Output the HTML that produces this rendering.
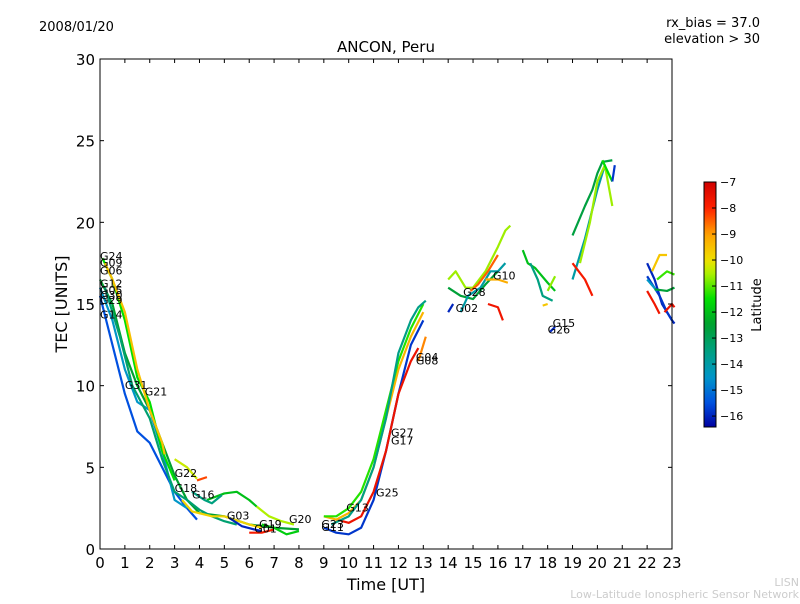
<!DOCTYPE html>
<html><head><meta charset="utf-8"><style>
body{margin:0;background:#fff;width:800px;height:600px;overflow:hidden;font-family:"DejaVu Sans","Liberation Sans",sans-serif}
svg text{font-family:"DejaVu Sans","Liberation Sans",sans-serif}
</style></head><body>
<svg id="c" width="800" height="600" xmlns="http://www.w3.org/2000/svg">
<text x="39" y="31" font-size="13">2008/01/20</text>
<text x="760" y="27" font-size="13" text-anchor="end">rx_bias = 37.0</text>
<text x="760" y="43" font-size="13" text-anchor="end">elevation &gt; 30</text>
<text x="386" y="52" font-size="15" text-anchor="middle">ANCON, Peru</text>
<text x="386" y="590" font-size="16" text-anchor="middle">Time [UT]</text>
<text x="67" y="304" font-size="16" text-anchor="middle" transform="rotate(-90 67 304)">TEC [UNITS]</text>
<text x="799" y="586" font-size="11" fill="#ccc" text-anchor="end">LISN</text>
<text x="799" y="598" font-size="11" fill="#ccc" text-anchor="end">Low-Latitude Ionospheric Sensor Network</text>
<g id="plot"></g>
<g id="cbar"></g>
</svg>
<script>
const xTicks=[0,1,2,3,4,5,6,7,8,9,10,11,12,13,14,15,16,17,18,19,20,21,22,23];
const yTicks=[0,5,10,15,20,25,30];
const cbTicks=[-7,-8,-9,-10,-11,-12,-13,-14,-15,-16];
const seriesLat=[-12.5,-15.5,-14.5,-13.3,-11.5,-9.5,-10.3,-8.3,-12,-13.5,-9.8,-16,-7.8,-11.8,-10.5,-15.8,-7.6,-9.3,-11.3,-13.6,-8.8,-10.6,-12.6,-16,-14,-8.5,-7.7,-9.2,-12,-13.5,-10.7,-9.6,-16,-12.7,-14,-10.6,-7.8,-11.5,-15.8,-16,-15.8,-14.5,-9.6,-11.2,-12.6,-7.7,-7.6];
const seriesPts=[
[[0,16.5],[0.5,15],[1,12],[1.5,10],[2,8.5],[2.5,6.5],[3,4.5],[3.5,3],[4,2.2],[5,2],[6,1.5],[7,1.3],[8,1.2]],
[[0,15.5],[0.5,12.5],[1,9.5],[1.5,7.2],[2,6.5],[2.5,5],[3,3.5],[3.5,2.5],[3.9,1.8]],
[[0,16],[0.5,14],[1,11],[1.5,9],[2,8.5],[2.5,6],[3,3],[3.5,2.5]],
[[0.2,16],[0.8,13],[1.3,10],[2,8],[2.5,5.5],[3,3.5],[3.5,3],[4,2.4],[4.5,2],[5,1.7],[5.5,1.5]],
[[0.1,17.8],[0.5,16.5],[1,14],[1.5,10.5],[2,9],[2.5,6],[3,4.2]],
[[0.2,17.5],[0.5,16.5],[1,14.5],[1.5,11],[2,8.5],[2.5,6.5],[2.6,5.8]],
[[3,5.5],[3.5,5],[3.9,4.3]],
[[3.9,4.2],[4.3,4.4]],
[[4.3,3],[5,3.4],[5.5,3.5],[6,3],[6.3,2.6]],
[[3.7,3.5],[4.2,3],[4.5,2.8],[4.9,3.3]],
[[3.3,3],[3.7,2.3],[4.5,2],[5,2],[6,1.5],[6.5,1.3]],
[[5.2,1.9],[5.7,1.4],[6.2,1.2],[6.5,1.1]],
[[6,1],[6.5,1],[7,1.2]],
[[6.5,1.5],[7,1.3],[7.5,0.9],[8,1.1]],
[[6.3,2.6],[6.8,2],[7.3,1.7],[7.8,1.5]],
[[9,1.3],[9.5,1],[10,0.9],[10.5,1.3],[11,3],[11.5,6],[12,9.5],[12.5,12.5],[13,14]],
[[9.5,1.8],[10,1.6],[10.5,2],[11,3.5],[11.5,6],[12,9.5],[12.5,11.5],[12.8,12.3]],
[[9,2],[9.5,1.8],[10,2.2],[10.5,3],[11,5],[11.5,8],[12,11],[12.5,13],[13,14.5]],
[[9,2],[9.5,2],[10,2.5],[10.5,3.5],[11,5.5],[11.5,8.5],[12,11.5],[12.5,13.5],[13,15]],
[[9.3,1.5],[10,2],[10.5,3],[11,5],[11.5,8],[12,12],[12.5,14],[12.8,14.8],[13.1,15.2]],
[[12.8,11.5],[13.1,13]],
[[14,16.5],[14.3,17],[14.7,16],[15,16],[15.5,17],[16,18.5],[16.3,19.5],[16.5,19.8]],
[[14,16],[14.5,15.5],[15,15.3],[15.5,16.2],[16,17]],
[[14,14.5],[14.2,15]],
[[14.5,14.5],[14.8,15.5],[15.3,16],[15.7,17],[16,17],[16.3,17.5]],
[[14.9,15.8],[15.2,16.2],[15.6,17],[16,18]],
[[15.6,15],[16,14.8],[16.2,14]],
[[15.5,16.5],[16,16.5],[16.4,16.3]],
[[17,18.3],[17.2,17.5],[17.5,17.2],[18,16.3],[18.3,15.8]],
[[17.3,17.5],[17.6,16.5],[17.8,15.5],[18.2,15.2]],
[[18,15.8],[18.3,16.7]],
[[17.8,14.9],[18,15]],
[[18.1,13.3],[18.3,13.6]],
[[19,19.2],[19.5,21],[19.8,22],[20,23],[20.2,23.7],[20.6,23.8]],
[[19,16.5],[19.5,19],[20,22],[20.3,23.5]],
[[19.3,17.5],[19.7,20],[20,22.5],[20.3,23.5],[20.6,21]],
[[19,17.5],[19.5,16.5],[19.8,15.5]],
[[20.2,23.8],[20.6,22.5]],
[[20.6,22.5],[20.7,23.5]],
[[22,17.5],[22.3,16.5],[22.6,15],[23,14],[23.1,13.8]],
[[22,16.7],[22.5,15.5],[22.8,14.5],[23,14]],
[[22,16.5],[22.4,15.8]],
[[22.2,17],[22.5,18],[22.8,18]],
[[22.4,16.5],[22.8,17],[23.1,16.8]],
[[22.3,15.9],[22.8,15.8],[23.1,16]],
[[22,15.8],[22.3,15],[22.5,14.4]],
[[22.7,14.5],[23,15],[23.1,14.8]]
];
const labelText=["G24","G09","G06","G12","G05","G30","G29","G14","G31","G21","G22","G18","G16","G03","G01","G19","G20","G23","G11","G13","G25","G27","G17","G04","G08","G28","G02","G10","G15","G26"];
const labelPos=[[0,17.7],[0,17.3],[0,16.8],[0,16],[0,15.6],[0,15.3],[0,15],[0,14.1],[1,9.8],[1.8,9.4],[3,4.4],[3,3.5],[3.7,3.1],[5.1,1.8],[6.2,1],[6.4,1.3],[7.6,1.6],[8.9,1.3],[8.9,1.1],[9.9,2.3],[11.1,3.2],[11.7,6.9],[11.7,6.4],[12.7,11.5],[12.7,11.3],[14.6,15.5],[14.3,14.5],[15.8,16.5],[18.2,13.6],[18,13.2]];
const X=t=>100+t*572/23, Y=v=>549-v*490/30;
const cbMin=-16.42, cbMax=-7, CY=v=>182+(cbMax-v)*245/(cbMax-cbMin);
const cmapLat=[-16.42,-15.5,-14.5,-13.5,-12.5,-11.5,-10.5,-10,-9,-8,-7];
const cmapRGB=[[0,0,160],[0,80,224],[0,150,200],[0,160,128],[0,160,48],[0,224,0],[176,240,0],[240,224,0],[255,160,0],[255,32,0],[208,0,0]];
function col(l){
 l=Math.max(cbMin,Math.min(cbMax,l));
 let i=0;while(i<cmapLat.length-2&&l>cmapLat[i+1])i++;
 const f=(l-cmapLat[i])/(cmapLat[i+1]-cmapLat[i]);
 const c=cmapRGB[i].map((v,k)=>Math.round(v+(cmapRGB[i+1][k]-v)*f));
 return `rgb(${c[0]},${c[1]},${c[2]})`;
}
const NS="http://www.w3.org/2000/svg";
function mk(tag,at,par){const e=document.createElementNS(NS,tag);for(const k in at)e.setAttribute(k,at[k]);par.appendChild(e);return e;}
const P=document.getElementById('plot');
seriesPts.forEach((pts,i)=>{
 const e=mk('polyline',{points:pts.map(p=>X(p[0])+','+Y(p[1])).join(' '),fill:'none',stroke:col(seriesLat[i]),'stroke-width':2.2,'stroke-linejoin':'round'},P);
 
 
});
labelText.forEach((s,i)=>{
 const e=mk('text',{x:X(labelPos[i][0]),y:Y(labelPos[i][1]),'font-size':11},P);e.textContent=s;
 
 
});
const fr=mk('rect',{x:100,y:59,width:572,height:490,fill:'none',stroke:'#000','stroke-width':1},P);


xTicks.forEach(t=>{
 mk('line',{x1:X(t),x2:X(t),y1:549,y2:545,stroke:'#000'},P);mk('line',{x1:X(t),x2:X(t),y1:59,y2:63,stroke:'#000'},P);
 const e=mk('text',{x:X(t),y:568,'font-size':15,'text-anchor':'middle'},P);e.textContent=t;
 
 
});
yTicks.forEach(v=>{
 mk('line',{x1:100,x2:104,y1:Y(v),y2:Y(v),stroke:'#000'},P);mk('line',{x1:668,x2:672,y1:Y(v),y2:Y(v),stroke:'#000'},P);
 const e=mk('text',{x:95,y:Y(v)+6,'font-size':15,'text-anchor':'end'},P);e.textContent=v;
 
 
});
const C=document.getElementById('cbar');
const defs=mk('defs',{},C);const lg=mk('linearGradient',{id:'jg',x1:0,y1:1,x2:0,y2:0},defs);
for(let i=0;i<=40;i++)mk('stop',{offset:i/40,'stop-color':col(cbMin+(cbMax-cbMin)*i/40)},lg);
mk('rect',{x:704,y:182,width:12,height:245,fill:'url(#jg)',stroke:'#000'},C);
cbTicks.forEach(v=>{
 mk('line',{x1:712,x2:716,y1:CY(v),y2:CY(v),stroke:'#000'},C);
 const e=mk('text',{x:720,y:CY(v)+4,'font-size':11},C);e.textContent='\u2212'+Math.abs(v);
 
 
});
const cl=mk('text',{x:761,y:305,'font-size':13,'text-anchor':'middle',transform:'rotate(-90 761 305)'},C);cl.textContent='Latitude';


</script>
</body></html>
